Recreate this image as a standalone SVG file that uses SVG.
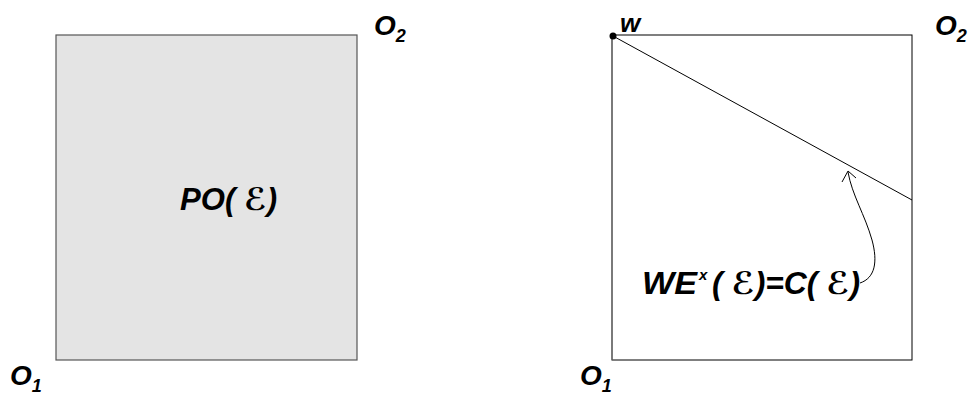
<svg xmlns="http://www.w3.org/2000/svg" width="976" height="402" viewBox="0 0 976 402">
<style>
.t{font-family:"Liberation Sans","DejaVu Sans",sans-serif;font-style:italic;font-weight:bold;fill:#000}
.big{font-size:31px}
.lbl{font-size:28px}
.sub{font-size:18px}
</style>
<rect width="976" height="402" fill="#fff"/>
<g id="left-box">
<rect x="56" y="35" width="301" height="325" fill="#e4e4e4" stroke="#555" stroke-width="1.2"/>
<text class="t big" x="180" y="210" textLength="97" lengthAdjust="spacingAndGlyphs">PO( ℰ)</text>
</g>
<g id="left-O2"><text class="t lbl" x="374" y="35">O<tspan class="sub" dy="7">2</tspan></text></g>
<g id="left-O1"><text class="t lbl" x="10" y="385">O<tspan class="sub" dy="7">1</tspan></text></g>
<g id="right-box">
<rect x="612" y="35" width="300" height="325" fill="#fff" stroke="#000" stroke-width="1"/>
<line x1="612" y1="35" x2="612" y2="360" stroke="#777" stroke-width="1.2"/>
</g>
<g id="right-O2"><text class="t lbl" x="935" y="35">O<tspan class="sub" dy="7">2</tspan></text></g>
<g id="right-O1"><text class="t lbl" x="580" y="385">O<tspan class="sub" dy="7">1</tspan></text></g>
<g id="w"><circle cx="613" cy="36" r="3.5" fill="#000"/><text class="t" font-size="26" x="620" y="32">w</text></g>
<g id="eq">
<text class="t big" x="642" y="294" textLength="55" lengthAdjust="spacingAndGlyphs">WE</text>
<text class="t" font-size="15" x="699" y="280">x</text>
<text class="t big" x="712" y="294" textLength="148" lengthAdjust="spacingAndGlyphs">( ℰ)=C( ℰ)</text>
</g>
<g id="connectors" fill="none" stroke="#000" stroke-width="1">
<line x1="613" y1="36" x2="912" y2="200"/>
<path d="M860 283 C875 278 878 262 872 240 C865 215 852 195 848 172"/>
<path d="M842 182 L848 171 L856 178"/>
</g>
</svg>
